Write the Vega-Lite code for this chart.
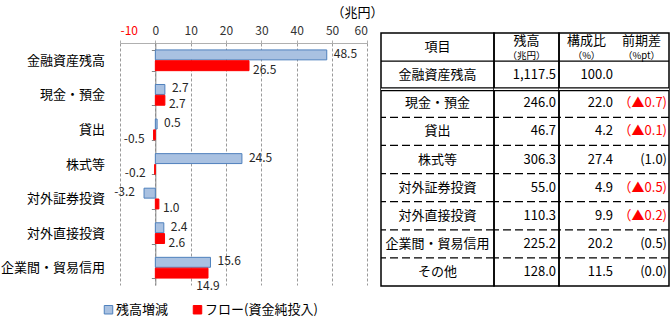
{
  "$schema": "https://vega.github.io/schema/vega-lite/v6.json",
  "background": "white",
  "padding": {"left": 0, "top": 6, "right": 0, "bottom": 0},
  "config": {
    "font": "Noto Sans CJK JP",
    "view": {"stroke": null},
    "locale": {"number": {"decimal": ".", "thousands": ",", "grouping": [3], "currency": ["", ""], "minus": "-"}},
    "text": {"font": "Noto Sans CJK JP"},
    "axis": {"labelFont": "Noto Sans CJK JP", "titleFont": "Noto Sans CJK JP"},
    "legend": {"labelFont": "Noto Sans CJK JP"}
  },
  "datasets": {
    "flows": [
      {"item": "金融資産残高", "series": "残高増減", "value": 48.5},
      {"item": "金融資産残高", "series": "フロー(資金純投入)", "value": 26.5},
      {"item": "現金・預金", "series": "残高増減", "value": 2.7},
      {"item": "現金・預金", "series": "フロー(資金純投入)", "value": 2.7},
      {"item": "貸出", "series": "残高増減", "value": 0.5},
      {"item": "貸出", "series": "フロー(資金純投入)", "value": -0.5},
      {"item": "株式等", "series": "残高増減", "value": 24.5},
      {"item": "株式等", "series": "フロー(資金純投入)", "value": -0.2},
      {"item": "対外証券投資", "series": "残高増減", "value": -3.2},
      {"item": "対外証券投資", "series": "フロー(資金純投入)", "value": 1.0},
      {"item": "対外直接投資", "series": "残高増減", "value": 2.4},
      {"item": "対外直接投資", "series": "フロー(資金純投入)", "value": 2.6},
      {"item": "企業間・貿易信用", "series": "残高増減", "value": 15.6},
      {"item": "企業間・貿易信用", "series": "フロー(資金純投入)", "value": 14.9}
    ],
    "table": [
      {"item": "金融資産残高", "balance": 1117.5, "share": 100.0, "change": null},
      {"item": "現金・預金", "balance": 246.0, "share": 22.0, "change": -0.7},
      {"item": "貸出", "balance": 46.7, "share": 4.2, "change": -0.1},
      {"item": "株式等", "balance": 306.3, "share": 27.4, "change": 1.0},
      {"item": "対外証券投資", "balance": 55.0, "share": 4.9, "change": -0.5},
      {"item": "対外直接投資", "balance": 110.3, "share": 9.9, "change": -0.2},
      {"item": "企業間・貿易信用", "balance": 225.2, "share": 20.2, "change": 0.5},
      {"item": "その他", "balance": 128.0, "share": 11.5, "change": 0.0}
    ]
  },
  "hconcat": [
    {
      "width": 260.7,
      "height": 253,
      "data": {"name": "flows"},
      "encoding": {
        "y": {
          "field": "item", "type": "nominal",
          "sort": ["金融資産残高", "現金・預金", "貸出", "株式等", "対外証券投資", "対外直接投資", "企業間・貿易信用"],
          "scale": {"range": [10, 252], "paddingInner": 0.4, "paddingOuter": 0.2},
          "axis": {
            "title": null, "offset": -35.34, "grid": false,
            "domainColor": "#868686", "domainWidth": 1,
            "tickColor": "#868686", "tickSize": 4, "tickBand": "extent",
            "labelPadding": 46.7, "labelFontSize": 13, "labelColor": "#000000"
          }
        },
        "yOffset": {
          "field": "series", "type": "nominal",
          "sort": ["残高増減", "フロー(資金純投入)"],
          "scale": {"paddingInner": 0.08}
        },
        "x": {
          "field": "value", "type": "quantitative",
          "scale": {"domain": [-10, 60], "nice": false, "range": [0, 247.4]},
          "axis": {
            "orient": "top", "offset": -10,
            "values": [-10, 0, 10, 20, 30, 40, 50, 60],
            "title": "（兆円）", "titleFontSize": 13, "titleFontWeight": "normal",
            "titleColor": "#000000", "titleX": 237, "titleY": -31,
            "titleBaseline": "middle", "titleAlign": "center",
            "grid": true, "gridColor": "#9a9a9a", "gridDash": [3, 2], "gridWidth": 1,
            "domain": true, "domainColor": "#b0b0b0",
            "ticks": true, "tickSize": 3, "tickColor": "#b0b0b0",
            "labelPadding": 3, "labelFontSize": 12,
            "labelColor": {"condition": {"test": "datum.value < 0", "value": "#ff0000"}, "value": "#333333"}
          }
        }
      },
      "layer": [
        {
          "mark": {"type": "bar", "strokeWidth": 1},
          "encoding": {
            "color": {
              "field": "series", "type": "nominal",
              "scale": {"domain": ["残高増減", "フロー(資金純投入)"], "range": ["#a9c1e1", "#ff0000"]},
              "legend": {
                "orient": "none", "legendX": -18, "legendY": 270, "direction": "horizontal",
                "title": null, "symbolType": "square", "symbolSize": 72,
                "labelFontSize": 13, "labelColor": "#000000", "columnPadding": 22,
                "labelOffset": 1, "symbolStrokeWidth": 1
              }
            },
            "stroke": {
              "field": "series", "type": "nominal",
              "scale": {"domain": ["残高増減", "フロー(資金純投入)"], "range": ["#4f81bd", "#ff0000"]},
              "legend": {
                "orient": "none", "legendX": -18, "legendY": 270, "direction": "horizontal",
                "title": null, "symbolType": "square", "symbolSize": 72,
                "labelFontSize": 13, "labelColor": "#000000", "columnPadding": 22,
                "labelOffset": 1, "symbolStrokeWidth": 1
              }
            }
          }
        },
        {
          "transform": [{"filter": "!(datum.item === '企業間・貿易信用' && datum.series === 'フロー(資金純投入)')"}],
          "mark": {
            "type": "text", "fontSize": 12, "color": "#262626", "baseline": "middle",
            "dy": {"expr": "datum.series === '残高増減' ? -1 : 4"},
            "align": {"expr": "datum.value < 0 ? 'right' : 'left'"},
            "dx": {"expr": "datum.value < 0 ? -9 : (datum.series === '残高増減' ? 7 : 4)"}
          },
          "encoding": {"text": {"field": "value", "type": "quantitative", "format": ".1f"}}
        },
        {
          "transform": [{"filter": "datum.item === '企業間・貿易信用' && datum.series === 'フロー(資金純投入)'"}],
          "mark": {"type": "text", "fontSize": 12, "color": "#262626", "align": "center", "baseline": "top", "dy": 8},
          "encoding": {"text": {"field": "value", "type": "quantitative", "format": ".1f"}}
        }
      ]
    },
    {
      "width": 113,
      "height": 253,
      "view": {"stroke": "#000000", "strokeWidth": 1.5},
      "data": {"name": "table"},
      "encoding": {
        "y": {
          "field": "item", "type": "nominal", "sort": null,
          "scale": {"domain": ["項目", "金融資産残高", "現金・預金", "貸出", "株式等", "対外証券投資", "対外直接投資", "企業間・貿易信用", "その他"], "paddingInner": 0, "paddingOuter": 0},
          "axis": null
        }
      },
      "layer": [
        {
          "transform": [{"filter": "datum.item === '金融資産残高'"}],
          "mark": {"type": "rule", "color": "#000000", "strokeWidth": 1.2},
          "encoding": {"y": {"field": "item", "type": "nominal", "bandPosition": 0}}
        },
        {
          "transform": [{"filter": "datum.item === '現金・預金'"}],
          "mark": {"type": "rule", "color": "#000000", "strokeWidth": 4},
          "encoding": {"y": {"field": "item", "type": "nominal", "bandPosition": 0}}
        },
        {
          "transform": [{"filter": "datum.item === '現金・預金'"}],
          "mark": {"type": "rule", "color": "#ffffff", "strokeWidth": 1.4},
          "encoding": {"y": {"field": "item", "type": "nominal", "bandPosition": 0}}
        },
        {
          "transform": [{"filter": "datum.item !== '金融資産残高' && datum.item !== '現金・預金'"}],
          "mark": {"type": "rule", "color": "#000000", "strokeWidth": 1.2, "strokeDash": [8, 4]},
          "encoding": {"y": {"field": "item", "type": "nominal", "bandPosition": 0}}
        },
        {
          "mark": {"type": "text", "fontSize": 13, "color": "#000000", "baseline": "middle"},
          "encoding": {"text": {"field": "item", "type": "nominal"}}
        },
        {
          "data": {"values": [{}]},
          "mark": {"type": "text", "fontSize": 13, "color": "#000000", "baseline": "middle", "text": "項目"},
          "encoding": {"y": {"datum": "項目"}}
        }
      ]
    },
    {
      "width": 65,
      "height": 253,
      "view": {"stroke": "#000000", "strokeWidth": 1.5},
      "data": {"name": "table"},
      "encoding": {
        "y": {
          "field": "item", "type": "nominal", "sort": null,
          "scale": {"domain": ["項目", "金融資産残高", "現金・預金", "貸出", "株式等", "対外証券投資", "対外直接投資", "企業間・貿易信用", "その他"], "paddingInner": 0, "paddingOuter": 0},
          "axis": null
        }
      },
      "layer": [
        {
          "transform": [{"filter": "datum.item === '金融資産残高'"}],
          "mark": {"type": "rule", "color": "#000000", "strokeWidth": 1.2},
          "encoding": {"y": {"field": "item", "type": "nominal", "bandPosition": 0}}
        },
        {
          "transform": [{"filter": "datum.item === '現金・預金'"}],
          "mark": {"type": "rule", "color": "#000000", "strokeWidth": 4},
          "encoding": {"y": {"field": "item", "type": "nominal", "bandPosition": 0}}
        },
        {
          "transform": [{"filter": "datum.item === '現金・預金'"}],
          "mark": {"type": "rule", "color": "#ffffff", "strokeWidth": 1.4},
          "encoding": {"y": {"field": "item", "type": "nominal", "bandPosition": 0}}
        },
        {
          "transform": [{"filter": "datum.item !== '金融資産残高' && datum.item !== '現金・預金'"}],
          "mark": {"type": "rule", "color": "#000000", "strokeWidth": 1.2, "strokeDash": [8, 4]},
          "encoding": {"y": {"field": "item", "type": "nominal", "bandPosition": 0}}
        },
        {
          "mark": {"type": "text", "fontSize": 13, "color": "#000000", "baseline": "middle", "align": "right", "dx": -3},
          "encoding": {
            "x": {"datum": "残高", "type": "nominal", "scale": {"type": "point", "domain": ["残高"], "padding": 0, "align": 1}, "axis": null},
            "text": {"field": "balance", "type": "quantitative", "format": ",.1f"}
          }
        },
        {
          "data": {"values": [{}]},
          "layer": [
            {
              "mark": {"type": "text", "fontSize": 13, "color": "#000000", "baseline": "middle", "dy": -6.5, "text": "残高"},
              "encoding": {"y": {"datum": "項目"}}
            },
            {
              "mark": {"type": "text", "fontSize": 9.5, "color": "#000000", "baseline": "middle", "dy": 9, "text": "（兆円）"},
              "encoding": {"y": {"datum": "項目"}}
            }
          ]
        }
      ]
    },
    {
      "width": 110,
      "height": 253,
      "view": {"stroke": "#000000", "strokeWidth": 1.5},
      "data": {"name": "table"},
      "encoding": {
        "y": {
          "field": "item", "type": "nominal", "sort": null,
          "scale": {"domain": ["項目", "金融資産残高", "現金・預金", "貸出", "株式等", "対外証券投資", "対外直接投資", "企業間・貿易信用", "その他"], "paddingInner": 0, "paddingOuter": 0},
          "axis": null
        }
      },
      "resolve": {"scale": {"x": "independent"}},
      "layer": [
        {
          "transform": [{"filter": "datum.item === '金融資産残高'"}],
          "mark": {"type": "rule", "color": "#000000", "strokeWidth": 1.2},
          "encoding": {"y": {"field": "item", "type": "nominal", "bandPosition": 0}}
        },
        {
          "transform": [{"filter": "datum.item === '現金・預金'"}],
          "mark": {"type": "rule", "color": "#000000", "strokeWidth": 4},
          "encoding": {"y": {"field": "item", "type": "nominal", "bandPosition": 0}}
        },
        {
          "transform": [{"filter": "datum.item === '現金・預金'"}],
          "mark": {"type": "rule", "color": "#ffffff", "strokeWidth": 1.4},
          "encoding": {"y": {"field": "item", "type": "nominal", "bandPosition": 0}}
        },
        {
          "transform": [{"filter": "datum.item !== '金融資産残高' && datum.item !== '現金・預金'"}],
          "mark": {"type": "rule", "color": "#000000", "strokeWidth": 1.2, "strokeDash": [8, 4]},
          "encoding": {"y": {"field": "item", "type": "nominal", "bandPosition": 0}}
        },
        {
          "mark": {"type": "text", "fontSize": 13, "color": "#000000", "baseline": "middle", "align": "right", "dx": -1},
          "encoding": {
            "x": {"datum": "構成比", "type": "nominal", "scale": {"type": "point", "domain": ["構成比", "前期差"], "padding": 0.5, "align": 1}, "axis": null},
            "text": {"field": "share", "type": "quantitative", "format": ".1f"}
          }
        },
        {
          "transform": [
            {"filter": "datum.change != null"},
            {"calculate": "datum.change < 0 ? '（▲' + format(-datum.change, '.1f') + ')' : '(' + format(datum.change, '.1f') + ')'", "as": "changeLabel"}
          ],
          "mark": {"type": "text", "fontSize": 13, "baseline": "middle", "align": "right", "dx": -2},
          "encoding": {
            "x": {"datum": "前期差", "type": "nominal", "scale": {"type": "point", "domain": ["構成比", "前期差"], "padding": 0.5, "align": 1}, "axis": null},
            "text": {"field": "changeLabel", "type": "nominal"},
            "color": {"condition": {"test": "datum.change < 0", "value": "#ff0000"}, "value": "#000000"}
          }
        },
        {
          "data": {"values": [{}]},
          "encoding": {
            "x": {"datum": "構成比", "type": "nominal", "scale": {"domain": ["構成比", "前期差"], "paddingInner": 0, "paddingOuter": 0}, "axis": null}
          },
          "layer": [
            {
              "mark": {"type": "text", "fontSize": 13, "color": "#000000", "baseline": "middle", "dy": -6.5, "text": "構成比"},
              "encoding": {"y": {"datum": "項目"}}
            },
            {
              "mark": {"type": "text", "fontSize": 9.5, "color": "#000000", "baseline": "middle", "dy": 9, "text": "（%）"},
              "encoding": {"y": {"datum": "項目"}}
            },
            {
              "mark": {"type": "text", "fontSize": 13, "color": "#000000", "baseline": "middle", "dy": -6.5, "text": "前期差"},
              "encoding": {"x": {"datum": "前期差", "type": "nominal", "axis": null}, "y": {"datum": "項目"}}
            },
            {
              "mark": {"type": "text", "fontSize": 9.5, "color": "#000000", "baseline": "middle", "dy": 9, "text": "（%pt）"},
              "encoding": {"x": {"datum": "前期差", "type": "nominal", "axis": null}, "y": {"datum": "項目"}}
            }
          ]
        }
      ]
    }
  ],
  "spacing": 0,
  "bounds": "flush"
}
